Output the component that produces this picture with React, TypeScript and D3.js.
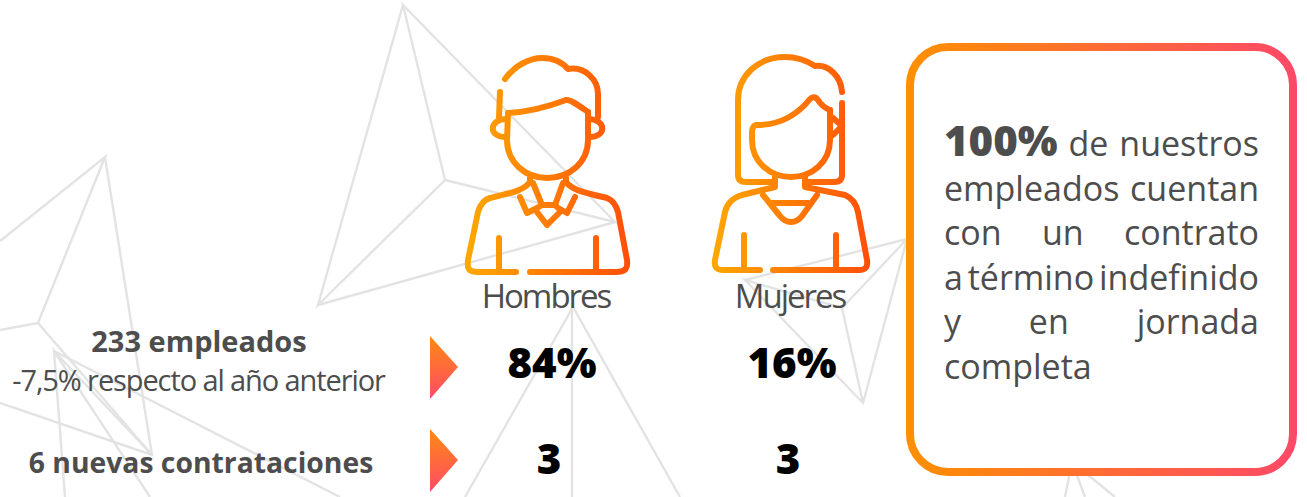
import React from 'react';
import * as d3 from 'd3';

const categories = ['Hombres', 'Mujeres'];
const shareValues = ['84%', '16%'];
const hireValues = ['3', '3'];
const rowTitles = ['233 empleados', '6 nuevas contrataciones'];
const rowSubtitle = '-7,5% respecto al año anterior';
const boxLines = [
  ['100%', 'de', 'nuestros'],
  ['empleados', 'cuentan'],
  ['con', 'un', 'contrato'],
  ['a', 'término', 'indefinido'],
  ['y', 'en', 'jornada'],
  ['completa'],
];

// decorative background lines
const backgroundLines: [number, number][][] = [
  [[403, 5], [318, 305], [445, 180], [403, 5], [615, 222], [445, 180]],
  [[318, 305], [615, 222]],
  [[0, 241], [105, 157], [38, 323], [0, 330]],
  [[105, 157], [152, 455], [0, 403]],
  [[38, 323], [152, 455]],
  [[65, 497], [54, 351], [150, 497]],
  [[54, 351], [340, 497]],
  [[54, 351], [152, 455]],
  [[465, 497], [573, 307], [680, 497]],
  [[572, 307], [572, 497]],
  [[745, 280], [907, 239], [842, 308], [745, 280], [863, 403], [907, 239]],
  [[842, 308], [863, 403]],
  [[1065, 497], [1072, 462], [1085, 497]],
  [[1072, 462], [1115, 497]],
];

const man = [
  'M505 79 C515 65 530 58 542 58 C552 58 562 62 568 69 C585 66 598 80 598 94 L598 117',
  'M500 92 L499 117',
  'M508 113 C530 112 550 106 566 100 C570 99 578 105 588 112',
  'M508 113 L507 140 C507 162 525 178 547 178 C570 178 588 162 588 140 L588 112',
  'M507 119 C488 119 488 138 507 137',
  'M588 119 C607 119 607 138 588 137',
  'M530 178 L530 182 C524 190 515 192 490 198 C483 200 480 205 478 212 L468 260 C467 268 468 272 478 272 L516 272',
  'M566 178 L566 182 C572 190 582 192 607 198 C612 200 616 205 618 212 L627 260 C628 268 626 272 616 272 L530 272',
  'M520 197 L527 213 L537 208 L542 205 L555 205 L558 208 L567 213 L575 197',
  'M533 183 L542 205',
  'M563 183 L555 205',
  'M537 212 L547 225 L560 212',
  'M499 238 L499 272',
  'M596 238 L596 272',
];

const woman = [
  'M842 92 C841 76 828 64 815 66 C806 60 796 57 785 57 C758 57 738 76 738 100 L738 175 C738 180 741 182 746 182 L772 182',
  'M842 103 L842 175 C842 180 839 182 834 182 L805 182',
  'M757 125 C782 125 798 114 810 99 C813 96 816 97 818 100 C821 105 825 108 830 110',
  'M757 125 C754 125 752 128 752 132 L752 140 C752 162 770 177 791 177 C812 177 830 162 830 140 L830 110',
  'M833 118 L842 126 L833 135',
  'M775 177 L775 187 L742 195 C732 198 727 203 725 212 L715 260 C714 266 716 270 722 270 L760 270',
  'M805 177 L805 187 L845 195 C852 198 856 203 858 212 L867 260 C868 266 866 270 860 270 L773 270',
  'M763 195 L780 216 C786 224 796 224 802 216 L817 195',
  'M772 203 L808 203',
  'M744 235 L744 270',
  'M836 235 L836 270',
];

const font = '"Open Sans", "Noto Sans", sans-serif';
const textColor = '#4d4d4d';

const measure = (word: string, size: number, weight: number) => {
  const ctx = document.createElement('canvas').getContext('2d')!;
  ctx.font = `${weight} ${size}px "Open Sans"`;
  return ctx.measureText(word).width;
};

const App = () => {
  const width = 1307;
  const height = 497;

  const x = d3.scaleOrdinal<string, number>().domain(categories).range([552, 792]);
  const y = d3.scalePoint<number>().domain([0, 1]).range([367, 460]);
  const line = d3.line();

  // justified lines inside the box
  const boxLeft = 944;
  const boxRight = 1259;
  const boxY = d3.scaleLinear().domain([0, 5]).range([156, 379]);

  return (
    <svg
      width={width}
      height={height}
      style={{ position: 'fixed', left: 0, top: 0, background: '#fff' }}
      fontFamily={font}
    >
      <defs>
        <linearGradient id="iconMan" gradientUnits="userSpaceOnUse" x1="466" y1="0" x2="630" y2="0">
          <stop offset="0" stopColor="#ffa800" />
          <stop offset="1" stopColor="#ff4e0a" />
        </linearGradient>
        <linearGradient id="iconWoman" gradientUnits="userSpaceOnUse" x1="712" y1="0" x2="870" y2="0">
          <stop offset="0" stopColor="#ffa800" />
          <stop offset="1" stopColor="#ff4e0a" />
        </linearGradient>
        <linearGradient id="boxStroke" gradientUnits="userSpaceOnUse" x1="906" y1="0" x2="1297" y2="0">
          <stop offset="0" stopColor="#ff9000" />
          <stop offset="1" stopColor="#ff4868" />
        </linearGradient>
        <linearGradient id="arrow" x1="0" y1="0" x2="0" y2="1">
          <stop offset="0" stopColor="#ff8a10" />
          <stop offset="1" stopColor="#ff4a68" />
        </linearGradient>
      </defs>

      <g fill="none" stroke="#e3e3e3" strokeWidth={2.4}>
        {backgroundLines.map((pts, i) => (
          <path key={i} d={line(pts) ?? ''} />
        ))}
      </g>

      <g fill="none" stroke="url(#iconMan)" strokeWidth={6} strokeLinecap="round" strokeLinejoin="round">
        {man.map((d, i) => <path key={i} d={d} />)}
      </g>
      <g fill="none" stroke="url(#iconWoman)" strokeWidth={6} strokeLinecap="round" strokeLinejoin="round">
        {woman.map((d, i) => <path key={i} d={d} />)}
      </g>

      {categories.map((c, i) => (
        <g key={c} textAnchor="middle">
          <text x={[546, 790][i]} y={308} fontSize={33} letterSpacing={-2} fill={textColor}>{c}</text>
          <text x={x(c)} y={y(0)! + 11} fontSize={42} fontWeight={800} fill="#000">{shareValues[i]}</text>
          <text x={[549, 788][i]} y={y(1)! + 14} fontSize={42} fontWeight={800} fill="#000">{hireValues[i]}</text>
        </g>
      ))}

      <g textAnchor="middle" fill={textColor}>
        <text x={199} y={352} fontSize={29} fontWeight={700}>{rowTitles[0]}</text>
        <text x={198.5} y={391} fontSize={29} letterSpacing={-1.1}>{rowSubtitle}</text>
        <text x={201} y={473} fontSize={28.3} fontWeight={700}>{rowTitles[1]}</text>
      </g>

      {y.domain().map(r => (
        <path
          key={r}
          d={`M430 ${y(r)! - 31}L458 ${y(r)!}L430 ${y(r)! + 32}Z`}
          fill="url(#arrow)"
        />
      ))}

      <rect x={910} y={47} width={383} height={425} rx={38} fill="#fff" stroke="url(#boxStroke)" strokeWidth={8} />

      <g fill={textColor}>
        {boxLines.map((words, i) => {
          const sizes = words.map(w => (w === '100%' ? 42 : 34));
          const weights = words.map(w => (w === '100%' ? 800 : 400));
          const widths = words.map((w, j) => measure(w, sizes[j], weights[j]));
          // last line is not justified
          const gap = words.length > 1 ? (boxRight - boxLeft - d3.sum(widths)) / (words.length - 1) : 0;
          let cursor = boxLeft;
          return words.map((w, j) => {
            const wx = cursor;
            cursor += widths[j] + gap;
            return (
              <text key={w} x={wx} y={boxY(i)} fontWeight={weights[j]} fontSize={sizes[j]}>
                {w}
              </text>
            );
          });
        })}
      </g>
    </svg>
  );
};

export default App;
